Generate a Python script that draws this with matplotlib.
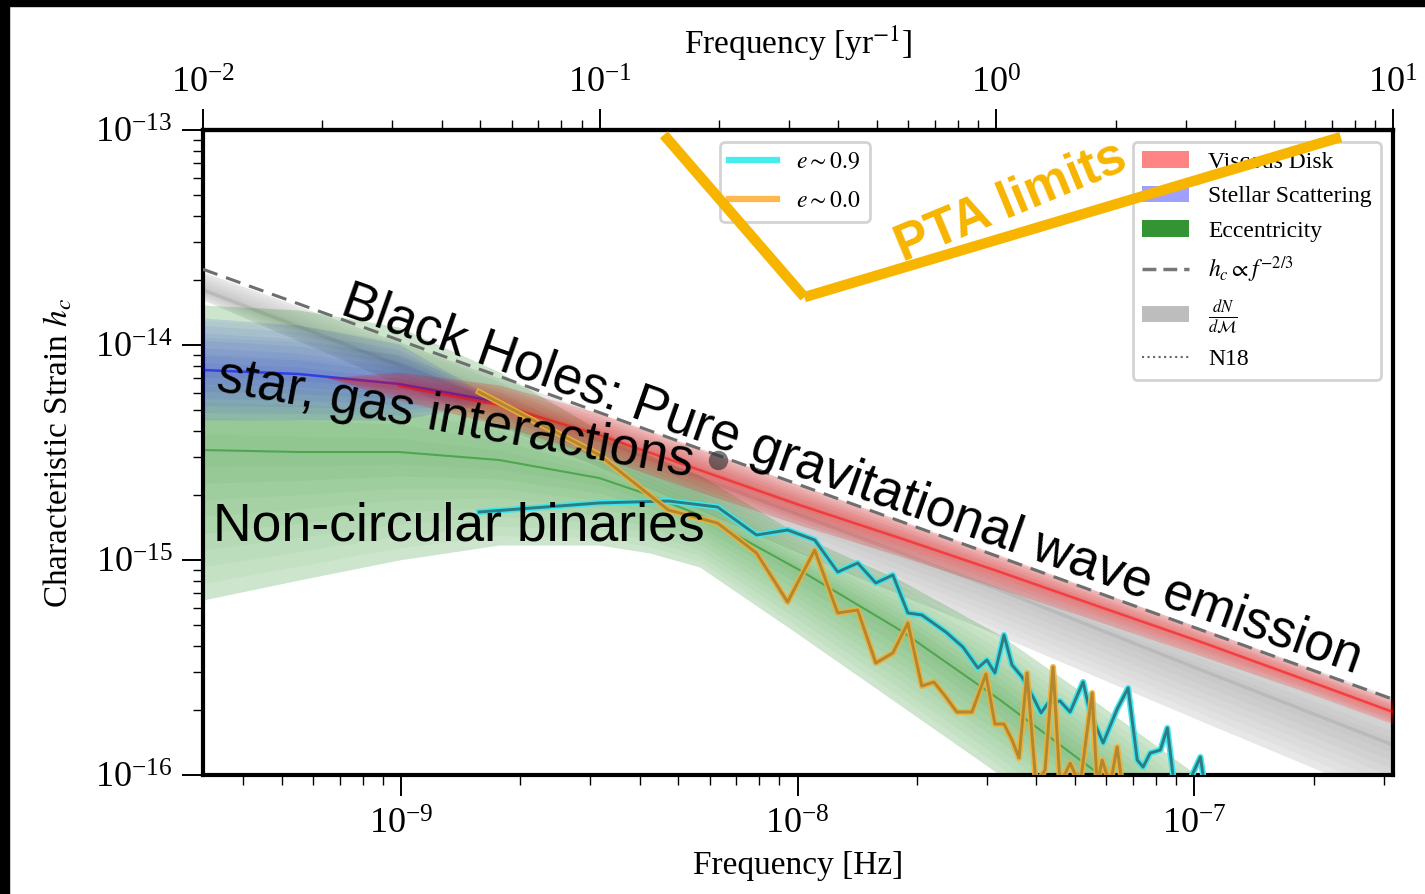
import numpy as np
import matplotlib
matplotlib.use("Agg")
import matplotlib.pyplot as plt
from matplotlib.patches import Patch, Rectangle
from matplotlib.lines import Line2D

plt.rcParams['font.family'] = 'serif'
plt.rcParams['font.serif'] = ['Liberation Serif', 'DejaVu Serif']
plt.rcParams['mathtext.fontset'] = 'stix'

# ---------------- data ----------------
YR_S = 3.15576e7  # seconds per year
x_lim_yr = [1e-2, 1e1]          # frequency range in 1/yr
y_lim = [1e-16, 1e-13]

# h_c ∝ f^{-2/3} reference line
f_pl = [3.1688e-10, 3.1688e-7]
h_pl = [2.25e-14, 2.25e-16]

# dN/dM (grey) band
f_gray = [3.17e-10, 9.88e-10, 3.16e-9, 1.01e-8, 3.24e-8, 1.04e-7, 3.17e-7]
gray_hi = [2.185e-14, 1.033e-14, 4.776e-15, 2.233e-15, 1.033e-15, 4.828e-16, 2.306e-16]
gray_mid = [1.802e-14, 8.07e-15, 3.614e-15, 1.619e-15, 7.25e-16, 3.08e-16, 1.379e-16]
gray_lo = [1.619e-14, 6.587e-15, 2.708e-15, 1.078e-15, 4.43e-16, 1.783e-16, 7.57e-17]

# Eccentricity (green) band
f_ecc = [3.17e-10, 5.53e-10, 9.88e-10, 1.77e-9, 3.16e-9, 4.23e-9, 5.66e-9,
         1.01e-8, 1.81e-8, 3.24e-8, 5.79e-8, 1.04e-7]
ecc_hi = [1.535e-14, 1.455e-14, 1.213e-14, 7.49e-15, 4.02e-15, 3.08e-15,
          2.485e-15, 1.307e-15, 8.07e-16, 4.479e-16, 2.116e-16, 9.68e-17]
ecc_mid = [3.248e-15, 3.179e-15, 3.179e-15, 2.918e-15, 2.406e-15, 2.005e-15,
           1.619e-15, 8.99e-16, 4.725e-16, 2.233e-16, 1.0e-16, 4.48e-17]
ecc_lo = [6.516e-16, 8.07e-16, 1.0e-15, 1.174e-15, 1.174e-15, 1.078e-15,
          9.28e-16, 4.479e-16, 2.116e-16, 1.0e-16, 4.48e-17, 2.005e-17]

# Stellar scattering (blue) band
f_ss = [3.17e-10, 5.53e-10, 9.88e-10, 1.77e-9]
ss_hi = [1.336e-14, 1.239e-14, 1.013e-14, 5.43e-15]
ss_mid = [7.65e-15, 7.33e-15, 6.59e-15, 5.43e-15]
ss_lo = [4.48e-15, 4.48e-15, 4.48e-15, 5.43e-15]

# Viscous disk (red) band
f_vd = [6.5e-10, 9.88e-10, 1.77e-9, 3.16e-9, 5.66e-9, 1.01e-8, 1.81e-8,
        3.24e-8, 5.79e-8, 1.04e-7, 1.85e-7, 3.17e-7]
vd_hi = [7.05e-15, 7.49e-15, 6.516e-15, 4.828e-15, 3.318e-15, 2.233e-15,
         1.535e-15, 1.055e-15, 7.1e-16, 4.828e-16, 3.248e-16, 2.233e-16]
vd_mid = [7.05e-15, 6.447e-15, 5.26e-15, 3.814e-15, 2.621e-15, 1.802e-15,
          1.265e-15, 8.795e-16, 6.045e-16, 4.155e-16, 2.826e-16, 1.963e-16]
vd_lo = [7.05e-15, 5.55e-15, 4.245e-15, 3.013e-15, 2.072e-15, 1.455e-15,
         1.044e-15, 7.33e-16, 5.147e-16, 3.576e-16, 2.485e-16, 1.727e-16]

# e ~ 0.9 simulated spectrum
f_e09 = [1.574e-9, 3.162e-9, 4.722e-9, 6.281e-9, 7.876e-9, 9.434e-9, 1.104e-8,
         1.262e-8, 1.417e-8, 1.574e-8, 1.738e-8, 1.896e-8, 2.056e-8, 2.364e-8,
         2.61e-8, 2.847e-8, 3.0e-8, 3.143e-8, 3.313e-8, 3.471e-8, 3.679e-8,
         3.921e-8, 4.108e-8, 4.279e-8, 4.587e-8, 4.862e-8, 5.244e-8, 5.462e-8,
         5.89e-8, 6.39e-8, 6.81e-8, 7.18e-8, 7.43e-8, 7.74e-8, 8.21e-8, 8.55e-8,
         8.85e-8, 9.49e-8, 1.036e-7, 1.066e-7]
h_e09 = [1.672e-15, 1.842e-15, 1.881e-15, 1.764e-15, 1.307e-15, 1.379e-15,
         1.239e-15, 8.795e-16, 9.68e-16, 7.816e-16, 8.515e-16, 5.67e-16,
         5.55e-16, 4.624e-16, 3.937e-16, 3.146e-16, 3.426e-16, 2.98e-16,
         4.479e-16, 3.248e-16, 2.856e-16, 2.306e-16, 1.943e-16, 2.162e-16,
         2.208e-16, 1.963e-16, 2.708e-16, 1.943e-16, 1.409e-16, 2.028e-16,
         2.539e-16, 1.174e-16, 1.089e-16, 1.265e-16, 1.307e-16, 1.654e-16,
         9.74e-17, 8.515e-17, 1.213e-16, 8.515e-17]

# e ~ 0.0 simulated spectrum
f_e00 = [1.574e-9, 3.162e-9, 4.722e-9, 6.281e-9, 7.876e-9, 9.434e-9, 1.104e-8,
         1.262e-8, 1.417e-8, 1.574e-8, 1.738e-8, 1.896e-8, 2.056e-8, 2.205e-8,
         2.364e-8, 2.52e-8, 2.75e-8, 2.983e-8, 3.143e-8, 3.313e-8, 3.471e-8,
         3.615e-8, 3.787e-8, 3.99e-8, 4.205e-8, 4.404e-8, 4.587e-8, 4.862e-8,
         5.153e-8, 5.526e-8, 5.69e-8, 5.856e-8, 6.135e-8, 6.39e-8, 6.577e-8]
h_e00 = [6.045e-15, 3.08e-15, 1.708e-15, 1.486e-15, 1.078e-15, 6.377e-16,
         1.113e-15, 5.67e-16, 5.853e-16, 3.318e-16, 3.694e-16, 5.093e-16,
         2.594e-16, 2.708e-16, 2.306e-16, 1.963e-16, 1.963e-16, 2.949e-16,
         1.727e-16, 1.727e-16, 1.455e-16, 1.2e-16, 2.98e-16, 8.99e-17,
         1.055e-16, 3.179e-16, 8.99e-17, 1.137e-16, 8.99e-17, 2.406e-16,
         8.99e-17, 1.174e-16, 8.99e-17, 1.349e-16, 8.99e-17]

# highlighted point
f_dot = [6.28e-9]
h_dot = [2.92e-15]

# PTA limit curve (two segments)
f_pta1 = [4.6e-9, 1.04e-8]
h_pta1 = [9.5e-14, 1.67e-14]
f_pta2 = [1.04e-8, 2.34e-7]
h_pta2 = [1.67e-14, 9.27e-14]

# ---------------- figure ----------------
fig = plt.figure(figsize=(14.25, 8.94), dpi=100)
ax = fig.add_axes([203/1425, 1-775/894, 1190/1425, 645/894])
ax.set_xscale('log')
ax.set_yscale('log')
ax.set_xlim(x_lim_yr[0] / YR_S, x_lim_yr[1] / YR_S)
ax.set_ylim(*y_lim)


def layered(f, lo, mid, hi, color, n, a_out, a_in, z):
    lo, mid, hi = (np.log10(np.asarray(v)) for v in (lo, mid, hi))
    ax.fill_between(f, 10**lo, 10**hi, color=color, alpha=a_out, lw=0, zorder=z)
    for k in range(1, n + 1):
        s = 1 - k / (n + 1)
        ax.fill_between(f, 10**(mid + s*(lo-mid)), 10**(mid + s*(hi-mid)),
                        color=color, alpha=a_in, lw=0, zorder=z)


layered(f_gray, gray_lo, gray_mid, gray_hi, '0.5', 6, 0.19, 0.05, 1)
ax.plot(f_gray, gray_mid, color='0.4', alpha=0.15, lw=2.5, zorder=1)

layered(f_ecc, ecc_lo, ecc_mid, ecc_hi, 'green', 8, 0.20, 0.04, 2)
ax.plot(f_ecc, ecc_mid, color='green', alpha=0.45, lw=1.5, zorder=2)

layered(f_ss, ss_lo, ss_mid, ss_hi, 'blue', 6, 0.10, 0.05, 3)
ax.plot(f_ss, ss_mid, color='blue', alpha=0.55, lw=1.8, zorder=3)

layered(f_vd, vd_lo, vd_mid, vd_hi, 'red', 5, 0.20, 0.06, 4)
ax.plot(f_vd[1:], vd_mid[1:], color='red', alpha=0.5, lw=1.8, zorder=4)

ax.plot(f_pl, h_pl, ls=(0, (5, 3)), color='#6e6e6e', lw=2.2, zorder=5)

ax.plot(f_e09, h_e09, color='#3ee6ee', lw=4.4, zorder=6, solid_joinstyle='round')
ax.plot(f_e09, h_e09, color='#2e7c82', lw=2.1, zorder=6.1, solid_joinstyle='round')
ax.plot(f_e00, h_e00, color='#f0b03a', lw=4.4, alpha=0.9, zorder=6.2, solid_joinstyle='round')
ax.plot(f_e00, h_e00, color='#b2872e', lw=2.1, zorder=6.3, solid_joinstyle='round')

ax.plot(f_dot, h_dot, 'o', color='#333333', alpha=0.65, ms=14, mec='none', zorder=7)

# PTA limits
pta_c = '#f7b500'
ax.plot(f_pta1, h_pta1, color=pta_c, lw=7.5, solid_capstyle='butt', zorder=20, clip_on=False)
ax.plot(f_pta2, h_pta2, color=pta_c, lw=7.5, solid_capstyle='butt', zorder=20, clip_on=False)

# ---------------- axes styling ----------------
for sp in ax.spines.values():
    sp.set_linewidth(3)
ax.tick_params(which='major', direction='out', length=15, width=1.4, labelsize=26,
               pad=7, top=False, right=False)
ax.tick_params(axis='x', which='major', pad=9)
ax.tick_params(which='minor', direction='out', length=7, width=1.0, top=False, right=False)

sec = ax.secondary_xaxis('top', functions=(lambda f: f * YR_S, lambda x: x / YR_S))
sec.tick_params(which='major', direction='out', length=15, width=1.4, labelsize=26, pad=6)
sec.tick_params(which='minor', direction='out', length=7, width=1.0)
sec.spines['top'].set_linewidth(3)

ax.set_xlabel('Frequency [Hz]', fontsize=24)
sec.set_xlabel('Frequency [yr$^{-1}$]', fontsize=24, labelpad=10)
ax.set_ylabel('Characteristic Strain $h_c$', fontsize=24)
ax.xaxis.set_label_coords(0.5, -0.117)
ax.yaxis.set_label_coords(-0.108, 0.5)

# ---------------- legends ----------------
h1 = [Patch(facecolor='#ff8585', edgecolor='none'),
      Patch(facecolor='#9f9fff', edgecolor='none'),
      Patch(facecolor='#339433', edgecolor='none'),
      Line2D([], [], color='#777777', lw=2.5, ls=(0, (4, 2))),
      Patch(facecolor='#bdbdbd', edgecolor='none'),
      Line2D([], [], color='#666666', lw=1.5, ls=':')]
l1 = ['Viscous Disk', 'Stellar Scattering', 'Eccentricity',
      r'$h_c \propto f^{-2/3}$', r'$\frac{dN}{d\mathcal{M}}$', 'N18']
leg1 = ax.legend(h1, l1, loc='upper right', fontsize=17, framealpha=0.85,
                 edgecolor='#cccccc', fancybox=True, labelspacing=0.55)
leg1.get_frame().set_linewidth(2)
leg1.set_zorder(9)
ax.add_artist(leg1)

h2 = [Line2D([], [], color='#44eeee', lw=4.5), Line2D([], [], color='#ffb84d', lw=4.5)]
leg2 = ax.legend(h2, [r'$e\sim0.9$', r'$e\sim0.0$'], loc='upper left',
                 bbox_to_anchor=(0.4345, 0.9814), borderaxespad=0, fontsize=17,
                 framealpha=0.85, edgecolor='#cccccc', fancybox=True, labelspacing=0.75)
leg2.get_frame().set_linewidth(2)
leg2.set_zorder(9)

# ---------------- annotations ----------------
sans = ['Liberation Sans', 'DejaVu Sans']
ax.text(0.1143, 0.7147, 'Black Holes: Pure gravitational wave emission', transform=ax.transAxes,
        fontsize=38, family=sans, rotation=-19.5, rotation_mode='anchor',
        ha='left', va='baseline', zorder=12)
ax.text(0.0101, 0.5969, 'star, gas interactions', transform=ax.transAxes,
        fontsize=38, family=sans, rotation=-10.3, rotation_mode='anchor',
        ha='left', va='baseline', zorder=12)
ax.text(0.0084, 0.3628, 'Non-circular binaries', transform=ax.transAxes,
        fontsize=38.5, family=sans, ha='left', va='baseline', zorder=12)
ax.text(0.588, 0.7953, 'PTA limits', transform=ax.transAxes, color=pta_c,
        fontsize=37, family=sans, weight='bold', rotation=22.5, rotation_mode='anchor',
        ha='left', va='baseline', zorder=21)

# screenshot black edges
fig.add_artist(Rectangle((0, 0), 9/1425, 1, transform=fig.transFigure, color='black', zorder=50))
fig.add_artist(Rectangle((0, 1-6/894), 1, 6/894, transform=fig.transFigure, color='black', zorder=50))

fig.savefig('out.png', dpi=100)
